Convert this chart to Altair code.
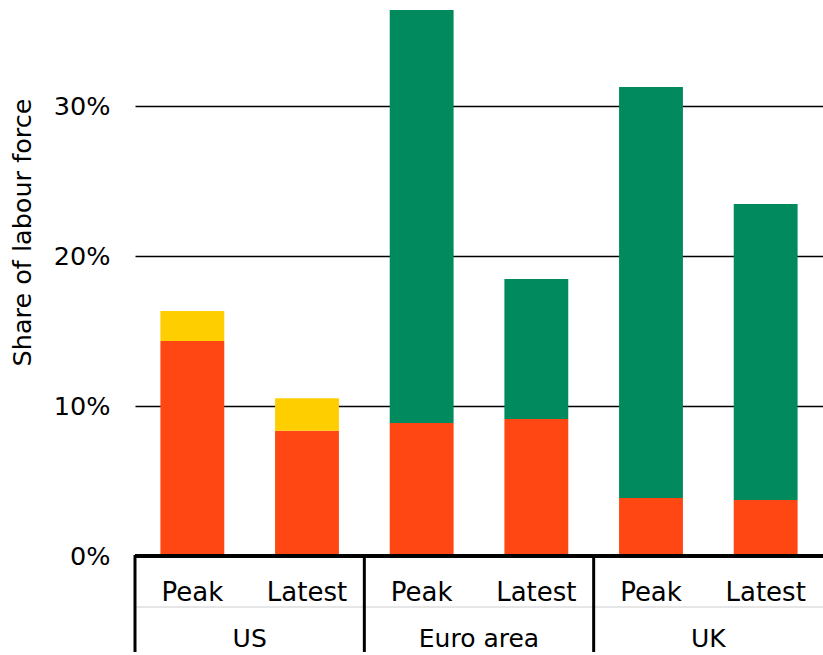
import altair as alt
import pandas as pd

groups = ["US", "US", "Euro area", "Euro area", "UK", "UK"]
periods = ["Peak", "Latest", "Peak", "Latest", "Peak", "Latest"]
unemployed = [14.33, 8.35, 8.87, 9.13, 3.87, 3.73]
temp_layoffs = [2.0, 2.16, 0.0, 0.0, 0.0, 0.0]
job_retention = [0.0, 0.0, 27.53, 9.34, 27.4, 19.74]

series_names = ["Unemployed", "Temporary layoffs", "Job retention schemes"]
series_colors = ["#FF4713", "#FFCE00", "#008A5E"]
tick_values = [0, 10, 20, 30]

FONT = "DejaVu Sans"
FS = 25.5

keys = [f"{g} {p}" for g, p in zip(groups, periods)]
rows = []
for i, k in enumerate(keys):
    for j, (name, vals) in enumerate(zip(series_names, [unemployed, temp_layoffs, job_retention])):
        rows.append({"key": k, "group": groups[i], "period": periods[i],
                     "series": name, "value": vals[i], "ord": j})
df = pd.DataFrame(rows)
labels_df = pd.DataFrame({"key": keys, "period": periods, "group": groups})
group_df = labels_df[labels_df["period"] == "Peak"].reset_index(drop=True)

xscale = alt.Scale(domain=keys, paddingInner=0, paddingOuter=0)

bars = alt.Chart(df).mark_bar(width=alt.RelativeBandSize(0.557)).encode(
    x=alt.X("key:N", scale=xscale, axis=None, sort=keys),
    y=alt.Y("value:Q", stack="zero",
            scale=alt.Scale(domain=[0, 37], nice=False, zero=True),
            axis=alt.Axis(values=tick_values, grid=True, gridColor="black", gridWidth=1.5,
                          domain=False, ticks=False, labelPadding=25,
                          labelExpr="datum.value + '%'", labelFont=FONT, labelFontSize=FS,
                          labelColor="black",
                          title="Share of labour force", titleFont=FONT, titleFontSize=FS,
                          titleFontWeight="normal", titleColor="black",
                          titleX=-113, titleY=231, titleAngle=-90,
                          titleBaseline="middle", titleAlign="center")),
    color=alt.Color("series:N", scale=alt.Scale(domain=series_names, range=series_colors), legend=None),
    order=alt.Order("ord:Q"),
)

base_rule = alt.Chart(labels_df).mark_rule(color="black", strokeWidth=3).encode(
    x=alt.value(0), x2=alt.value(690), y=alt.value(555)
)

faint = alt.Chart(labels_df).mark_rule(color="#e6e6e6", strokeWidth=1).encode(
    x=alt.value(0), x2=alt.value(690), y=alt.value(606)
)

seps = alt.Chart(group_df).mark_rule(color="black", strokeWidth=3).encode(
    x=alt.X("key:N", scale=xscale, bandPosition=0, sort=keys),
    y=alt.value(554), y2=alt.value(660)
)

period_text = alt.Chart(labels_df).mark_text(font=FONT, fontSize=26, baseline="middle", color="black").encode(
    x=alt.X("key:N", scale=xscale, sort=keys),
    y=alt.value(592),
    text="period:N",
)

group_text = alt.Chart(group_df).mark_text(font=FONT, fontSize=25, baseline="middle", color="black").encode(
    x=alt.X("key:N", scale=xscale, bandPosition=1, sort=keys),
    y=alt.value(638),
    text="group:N",
)

chart = alt.layer(faint, bars, base_rule, seps, period_text, group_text).properties(
    width=688, height=555,
    autosize=alt.AutoSizeParams(type="none"),
    padding={"left": 135, "top": 1, "right": 0, "bottom": 96},
).configure_view(stroke=None, clip=False)

chart.save("out.html", embed_options={"renderer": "svg", "actions": False})
